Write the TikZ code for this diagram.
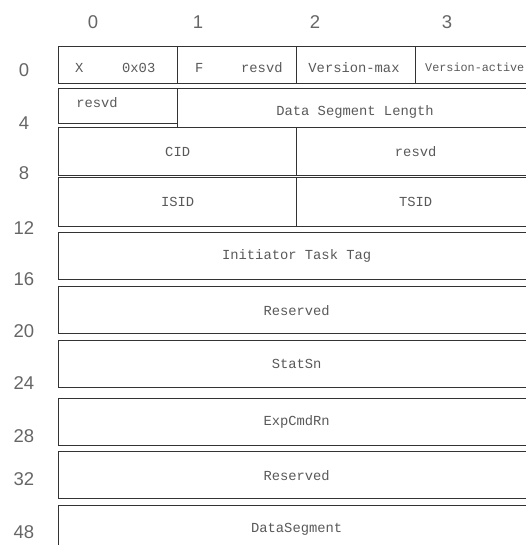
\documentclass[tikz,border=0pt]{standalone}
\usepackage{fontspec}
\setmainfont{Liberation Sans}
\setmonofont{Liberation Mono}
\begin{document}
\begin{tikzpicture}[x=1pt, y=-1pt,
  cell/.style={draw=black!80, line width=1.3pt, anchor=north west, inner sep=0pt, font=\fontsize{13.8}{14}\selectfont\ttfamily, text=black!65},
  txt/.style={inner sep=0pt, font=\fontsize{13.8}{14}\selectfont\ttfamily, text=black!65},
  idx/.style={inner sep=0pt, font=\fontsize{18.5}{19}\selectfont, text=black!60}]
  \useasboundingbox (0,0) rectangle (526,545);
  \clip (0,0) rectangle (526,545);
  % byte columns and offsets
  \foreach \x/\n in {93/0, 198/1, 315/2, 447/3}
    \node[idx] (col\n) at (\x,22) {\n};
  \foreach \y/\n in {70/0, 123/4, 173/8, 228/12, 279/16, 331/20, 383/24, 436/28, 479/32, 532/48}
    \node[idx] (off\n) at (24,\y) {\n};
  % word 0
  \node[cell, minimum width=119pt, minimum height=37pt] (opcode) at (58,46) {};
  \node[cell, minimum width=119pt, minimum height=37pt] (flags) at (177,46) {};
  \node[cell, minimum width=119pt, minimum height=37pt] (vmax) at (296,46) {};
  \node[cell, minimum width=119pt, minimum height=37pt] (vact) at (415,46) {};
  \node[txt, anchor=west] (opcodetxt) at (75,68) {X\hspace{38.7pt}0x03};
  \node[txt, anchor=west] (flagstxt) at (195,68) {F\hspace{37.7pt}resvd};
  \node[txt] (vmaxtxt) at (354,68) {Version-max};
  \node[txt, anchor=west, font=\fontsize{11.8}{12}\selectfont\ttfamily] (vacttxt) at (425,67) {Version-active};
  % word 1
  \node[cell, minimum width=119pt, minimum height=35pt] (rsvd) at (58,88) {};
  \node[cell, minimum width=357pt, minimum height=39pt] (dslen) at (177,88) {};
  \node[txt] (rsvdtxt) at (97,103) {resvd};
  \node[txt] (dslentxt) at (355,112) {Data Segment Length};
  % words 2 and 3
  \node[cell, minimum width=238pt, minimum height=48pt] (cid) at (58,127) {CID};
  \node[cell, minimum width=238pt, minimum height=48pt] (rsvdb) at (296,127) {resvd};
  \node[cell, minimum width=238pt, minimum height=49pt] (isid) at (58,177) {ISID};
  \node[cell, minimum width=238pt, minimum height=49pt] (tsid) at (296,177) {TSID};
  % full words
  \foreach \t/\n/\s in {232/itt/Initiator Task Tag, 286/rsvc/Reserved, 340/statsn/StatSn, 398/expcmd/ExpCmdRn, 451/rsve/Reserved, 505/dseg/DataSegment}
    \node[cell, minimum width=476pt, minimum height=47pt] (\n) at (58,\t) {\s};
\end{tikzpicture}
\end{document}
